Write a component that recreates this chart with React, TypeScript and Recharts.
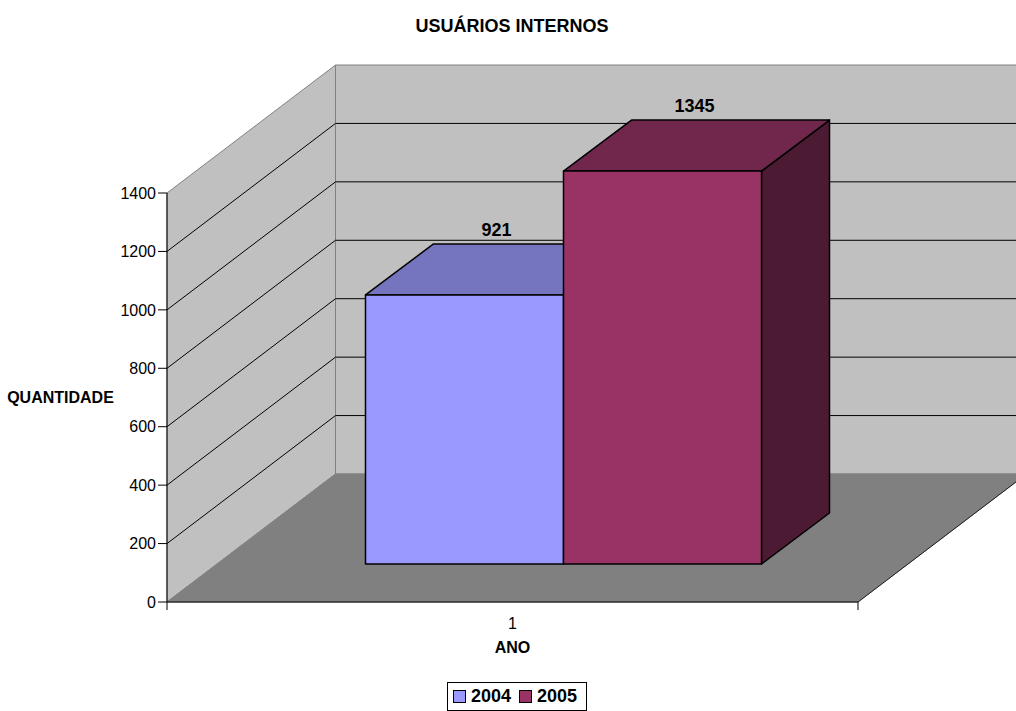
import React from "react";
import { BarChart, Bar, XAxis, YAxis, ReferenceArea, ReferenceLine, Legend, Label } from "recharts";

const categories = ["1"];
const values2004 = [921];
const values2005 = [1345];
const yTicks = [0, 200, 400, 600, 800, 1000, 1200, 1400];
const wallLines = [200, 400, 600, 800, 1000, 1200];
const title = "USUÁRIOS INTERNOS";
const yTitle = "QUANTIDADE";
const xTitle = "ANO";
const series = [
  { key: "y2004", name: "2004", front: "#9999FF", top: "#7474BF", side: "#4C4C80" },
  { key: "y2005", name: "2005", front: "#993366", top: "#71274C", side: "#4C1A33" },
];

const data = categories.map((c, i) => ({ cat: c, y2004: values2004[i], y2005: values2005[i] }));

const FONT = "'Liberation Sans', Arial, sans-serif";
const WALL_DX = 168.5;
const WALL_DY = 128;
const BAR_SHIFT_X = 50.5;
const BAR_SHIFT_Y = 38;
const BAR_DX = 68;
const BAR_DY = 51;

const Walls = (p: any) => {
  const { x, y, width: w, height: h } = p;
  const b = y + h;
  return (
    <g>
      <polygon points={`${x},${b} ${x},${y} ${x + WALL_DX},${y - WALL_DY} ${x + WALL_DX},${b - WALL_DY}`} fill="#C0C0C0" stroke="#808080" strokeWidth={1} />
      <polygon points={`${x + WALL_DX},${y - WALL_DY} ${x + w + WALL_DX},${y - WALL_DY} ${x + w + WALL_DX},${b - WALL_DY} ${x + WALL_DX},${b - WALL_DY}`} fill="#C0C0C0" stroke="#808080" strokeWidth={1} />
      <polygon points={`${x},${b} ${x + w},${b} ${x + w + WALL_DX},${b - WALL_DY} ${x + WALL_DX},${b - WALL_DY}`} fill="#808080" stroke="#808080" strokeWidth={1} />
      <line x1={x + w} y1={b} x2={x + w + WALL_DX} y2={b - WALL_DY} stroke="#202020" strokeWidth={1} />
      <line x1={x} y1={b} x2={x} y2={b + 8} stroke="#000" />
      <line x1={x + w} y1={b} x2={x + w} y2={b + 8} stroke="#000" />
      <text x={512} y={32} textAnchor="middle" fontFamily={FONT} fontSize={18} fontWeight="bold" fill="#000">{title}</text>
      <text x={60.5} y={403} textAnchor="middle" fontFamily={FONT} fontSize={16} fontWeight="bold" fill="#000">{yTitle}</text>
    </g>
  );
};

const WallLine = (p: any) => {
  const { x1, x2, y1 } = p;
  return (
    <path
      d={`M${x1},${y1} L${x1 + WALL_DX},${y1 - WALL_DY} L${x2 + WALL_DX},${y1 - WALL_DY}`}
      fill="none"
      stroke="#000"
      strokeWidth={1}
    />
  );
};

const Box = (p: any) => {
  const { x, y, width: w, height: h, fill } = p;
  const s = series.find((e) => e.front === fill) || series[0];
  const fx = x + BAR_SHIFT_X;
  const fy = y - BAR_SHIFT_Y;
  return (
    <g stroke="#000" strokeWidth={1.5} strokeLinejoin="round">
      <polygon points={`${fx + w},${fy} ${fx + w + BAR_DX},${fy - BAR_DY} ${fx + w + BAR_DX},${fy + h - BAR_DY} ${fx + w},${fy + h}`} fill={s.side} />
      <polygon points={`${fx},${fy} ${fx + BAR_DX},${fy - BAR_DY} ${fx + w + BAR_DX},${fy - BAR_DY} ${fx + w},${fy}`} fill={s.top} />
      <rect x={fx} y={fy} width={w} height={h} fill={s.front} />
    </g>
  );
};

const ValueLabel = (p: any) => {
  const { x, y, width: w, value } = p;
  return (
    <text x={x + BAR_SHIFT_X + w / 2 + 32} y={y - BAR_SHIFT_Y - BAR_DY - 8} textAnchor="middle" fontFamily={FONT} fontSize={18} fontWeight="bold" fill="#000">
      {value}
    </text>
  );
};

const LegendBox = (p: any) => (
  <div style={{ boxSizing: "border-box", width: 140, height: 29, border: "1px solid #000", background: "#fff", display: "flex", alignItems: "center", paddingLeft: 5, fontFamily: FONT, fontSize: 18, fontWeight: "bold", color: "#000" }}>
    {(p.payload || []).map((e: any) => (
      <span key={e.value} style={{ display: "flex", alignItems: "center", marginRight: 8 }}>
        <span style={{ boxSizing: "border-box", display: "inline-block", width: 13, height: 13, background: e.color, border: "1px solid #000", marginRight: 5 }} />
        {e.value}
      </span>
    ))}
  </div>
);

export default function App() {
  return (
    <div style={{ position: "absolute", left: 0, top: 0, width: 1016, height: 711, overflow: "hidden", background: "#fff" }}>
      <BarChart
        width={1016}
        height={711}
        data={data}
        margin={{ top: 193, right: 158, bottom: 0, left: 0 }}
        barSize={198}
        barGap={0}
      >
        <ReferenceArea y1={0} y2={1400} shape={<Walls />} fill="none" stroke="none" zIndex={-60} />
        {wallLines.map((t) => (
          <ReferenceLine key={t} y={t} shape={<WallLine />} zIndex={-50} />
        ))}
        <XAxis dataKey="cat" tickLine={false} axisLine={{ stroke: "#000" }} tick={{ fontFamily: FONT, fontSize: 16, fill: "#000" }} tickMargin={10} height={80}>
          <Label value={xTitle} position="insideTop" offset={40} style={{ fontFamily: FONT, fontSize: 16, fontWeight: "bold", fill: "#000" }} />
        </XAxis>
        <YAxis
          domain={[0, 1400]}
          ticks={yTicks}
          width={167}
          tickSize={9}
          tickMargin={2}
          interval={0}
          axisLine={{ stroke: "#000" }}
          tickLine={{ stroke: "#000" }}
          tick={{ fontFamily: FONT, fontSize: 16, fill: "#000" }}
        />
        <Legend content={<LegendBox />} wrapperStyle={{ left: 447, top: 682, width: 140, height: 29, bottom: "auto" }} />
        {series.map((s) => (
          <Bar key={s.key} dataKey={s.key} name={s.name} fill={s.front} shape={<Box />} label={<ValueLabel />} isAnimationActive={false} />
        ))}
      </BarChart>
    </div>
  );
}
